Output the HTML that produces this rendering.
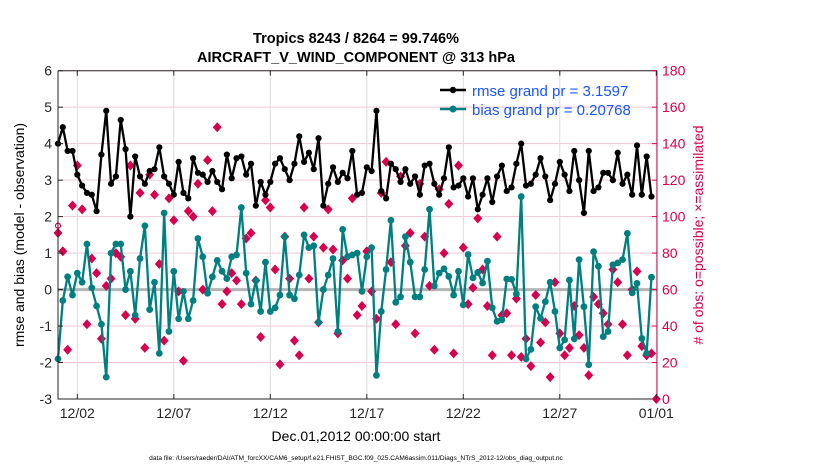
<!DOCTYPE html>
<html><head><meta charset="utf-8">
<style>
body{margin:0;background:#fff;}
svg text{font-family:"Liberation Sans",Arial,sans-serif;}
</style></head>
<body>
<svg id="chart" width="830" height="470" xmlns="http://www.w3.org/2000/svg">
<text x="356" y="43" text-anchor="middle" font-size="14.5" font-weight="bold">Tropics 8243 / 8264 = 99.746%</text>
<text x="356" y="62" text-anchor="middle" font-size="14.5" font-weight="bold">AIRCRAFT_V_WIND_COMPONENT @ 313 hPa</text>
<g id="grid"></g>
<g id="series"></g>
<g id="axes"></g>
<text transform="translate(24,235) rotate(-90)" text-anchor="middle" font-size="14">rmse and bias (model - observation)</text>
<text transform="translate(703,235) rotate(-90)" text-anchor="middle" font-size="14" fill="#d6004f">#  of obs: o=possible;  ×=assimilated</text>
<text x="356" y="441" text-anchor="middle" font-size="14">Dec.01,2012 00:00:00 start</text>
<text x="356" y="460" text-anchor="middle" font-size="6.6">data file: /Users/raeder/DAI/ATM_forcXX/CAM6_setup/f.e21.FHIST_BGC.f09_025.CAM6assim.011/Diags_NTrS_2012-12/obs_diag_output.nc</text>
<g>
<line x1="440" y1="90" x2="466" y2="90" stroke="#000" stroke-width="2.5"/>
<circle cx="453" cy="90" r="3.2" fill="#000"/>
<text x="472" y="96" font-size="15" fill="#1a55ff">rmse grand pr = 3.1597</text>
<line x1="440" y1="109" x2="466" y2="109" stroke="#007f80" stroke-width="2.5"/>
<circle cx="453" cy="109" r="3.5" fill="#007f80"/>
<text x="472" y="115" font-size="15" fill="#1a55ff">bias grand pr = 0.20768</text>
</g>
</svg>
<script>
const rmse=[4.0,4.45,3.8,3.8,3.15,2.85,2.65,2.6,2.15,3.7,4.9,2.9,3.1,4.65,3.85,2.0,3.65,3.1,2.9,3.25,3.3,3.9,3.1,2.9,2.6,3.5,2.65,2.5,3.6,3.2,3.15,2.95,3.25,2.95,2.75,3.7,3.05,3.6,3.65,3.15,3.45,2.3,2.95,2.6,2.95,3.45,3.6,3.3,3.0,3.45,4.2,3.5,3.75,3.3,4.15,2.3,2.9,3.35,2.95,3.2,3.05,3.8,2.6,2.65,3.35,3.25,4.9,2.7,2.5,3.45,3.3,2.95,3.3,2.9,3.1,2.6,3.4,3.45,2.9,2.6,3.05,3.9,2.8,2.85,3.05,2.55,3.05,2.2,2.6,3.05,2.4,3.1,3.4,2.7,2.8,3.45,4.0,2.85,2.9,3.15,3.6,3.1,2.45,2.9,3.5,3.15,2.7,3.8,3.0,2.1,3.8,2.7,2.8,3.2,3.2,3.0,3.75,2.9,3.15,2.6,3.95,2.6,3.65,2.55];
const bias=[-1.9,-0.3,0.35,-0.15,0.45,0.2,1.25,0.05,-0.45,-0.95,-2.4,1.0,1.25,1.25,0.0,0.5,-0.7,0.85,1.75,-0.55,0.2,-1.75,2.1,-1.15,0.5,-0.8,-0.05,-0.8,-0.3,1.4,0.9,-0.1,0.35,0.8,0.5,0.3,0.9,0.95,2.25,0.45,-0.4,0.25,-0.6,0.75,-0.6,-0.5,-0.15,1.45,-0.15,-0.25,0.4,1.5,1.15,1.2,-0.9,0.0,0.4,0.85,-1.15,1.65,0.9,0.95,1.0,-0.05,0.9,1.15,-2.35,-0.6,0.55,1.9,-0.35,-0.2,1.45,0.75,-0.2,-0.2,0.55,2.2,0.1,0.45,0.57,0.36,-0.15,0.5,-0.42,0.96,0.32,0.47,0.18,0.78,-0.5,-0.87,-0.83,0.29,0.28,-0.12,2.55,-1.9,-1.64,-0.47,-0.79,-0.33,0.2,-0.6,-1.6,-1.38,0.26,-1.35,0.82,-0.47,-2.06,1.04,0.64,-1.29,-1.15,0.68,0.73,0.82,1.54,-0.09,0.17,-1.34,-1.75,0.34];
const nobs=[91,81,27,106,128,104,41,77,69,33,62,66,80,78,46,128,44,113,28,123,112,74,32,110,98,59,21,103,100,118,60,131,103,149,52,59,69,65,52,88,91,65,34,109,105,71,19,89,66,32,24,105,66,89,42,83,104,82,36,76,66,110,46,51,81,59,44,113,130,75,41,122,84,91,36,118,89,62,27,115,80,107,25,128,83,52,61,99,71,51,24,89,46,47,24,55,23,33,18,57,31,42,12,64,36,24,28,51,35,28,13,56,52,47,41,71,64,41,24,60,70,29,24,25,0];
const xTickLabels=["12/02","12/07","12/12","12/17","12/22","12/27","01/01"];
const xTickDays=[1,6,11,16,21,26,31];
const yTicksLeft=[6,5,4,3,2,1,0,-1,-2,-3];
const yTicksRight=[0,20,40,60,80,100,120,140,160,180];

const X0=58,X1=657,Y0=70.7,Y1=399;
const dayPx=19.3;
const xs=t=>X0+t*dayPx;               // t in days
const xi=i=>xs(i*0.25);
const yl=v=>Y1-(v+3)*(Y1-Y0)/9;
const yr=v=>Y1-v*(Y1-Y0)/180;
const NS="http://www.w3.org/2000/svg";
function mk(tag,attrs,parent){const e=document.createElementNS(NS,tag);for(const k in attrs)e.setAttribute(k,attrs[k]);parent.appendChild(e);return e;}
const grid=document.getElementById('grid'),ser=document.getElementById('series'),ax=document.getElementById('axes');

yTicksRight.forEach(v=>{const l=mk('line',{x1:X0,x2:X1,y1:yr(v),y2:yr(v),stroke:'#f3c6d6','stroke-width':1},grid);

});
xTickDays.forEach(d=>{const l=mk('line',{x1:xs(d),x2:xs(d),y1:Y0,y2:Y1,stroke:'#dcdcdc','stroke-width':1},grid);

});
const z=mk('line',{x1:X0,x2:X1,y1:yl(0),y2:yl(0),stroke:'#b4b4b4','stroke-width':3},grid);



// obs diamonds
nobs.forEach((v,i)=>{const x=xi(i),y=yr(v);
const p=mk('path',{d:`M${x} ${y-5}L${x+4.5} ${y}L${x} ${y+5}L${x-4.5} ${y}Z`,fill:'#d6004f'},ser);

});
const po=mk('circle',{cx:xi(0),cy:yr(95),r:2.5,fill:'none',stroke:'#d6004f','stroke-width':1.2},ser);



function series(arr,color,r,name){
 const pl=mk('polyline',{points:arr.map((v,i)=>xi(i)+','+yl(v)).join(' '),fill:'none',stroke:color,'stroke-width':2.3,'stroke-linejoin':'round'},ser);
 
 
 arr.forEach((v,i)=>{const c=mk('circle',{cx:xi(i),cy:yl(v),r:r,fill:color},ser);
 
 });
}
series(bias,'#007f80',3.4,'bias');
series(rmse,'#000000',3.1,'rmse');

// axes box
const bx=mk('path',{d:`M${X0} ${Y0}V${Y1}H${X1}`,fill:'none',stroke:'#262626','stroke-width':1},ax);


const ra=mk('line',{x1:X1,x2:X1,y1:Y0,y2:Y1,stroke:'#d6004f','stroke-width':1},ax);


const ta=mk('line',{x1:X0,x2:X1,y1:Y0,y2:Y0,stroke:'#262626','stroke-width':1},ax);


yTicksLeft.forEach(v=>{mk('line',{x1:X0,x2:X0+5,y1:yl(v),y2:yl(v),stroke:'#262626'},ax);
const t=mk('text',{x:X0-6,y:yl(v)+5,'text-anchor':'end','font-size':14,fill:'#262626'},ax);t.textContent=v;

});
yTicksRight.forEach(v=>{mk('line',{x1:X1-5,x2:X1,y1:yr(v),y2:yr(v),stroke:'#d6004f'},ax);
const t=mk('text',{x:X1+5,y:yr(v)+5,'font-size':14,fill:'#d6004f'},ax);t.textContent=v;

});
xTickDays.forEach((d,k)=>{mk('line',{x1:xs(d),x2:xs(d),y1:Y1,y2:Y1-5,stroke:'#262626'},ax);
mk('line',{x1:xs(d),x2:xs(d),y1:Y0,y2:Y0+5,stroke:'#262626'},ax);
const t=mk('text',{x:xs(d),y:418,'text-anchor':'middle','font-size':14,fill:'#262626'},ax);t.textContent=xTickLabels[k];

});
</script>
</body></html>
